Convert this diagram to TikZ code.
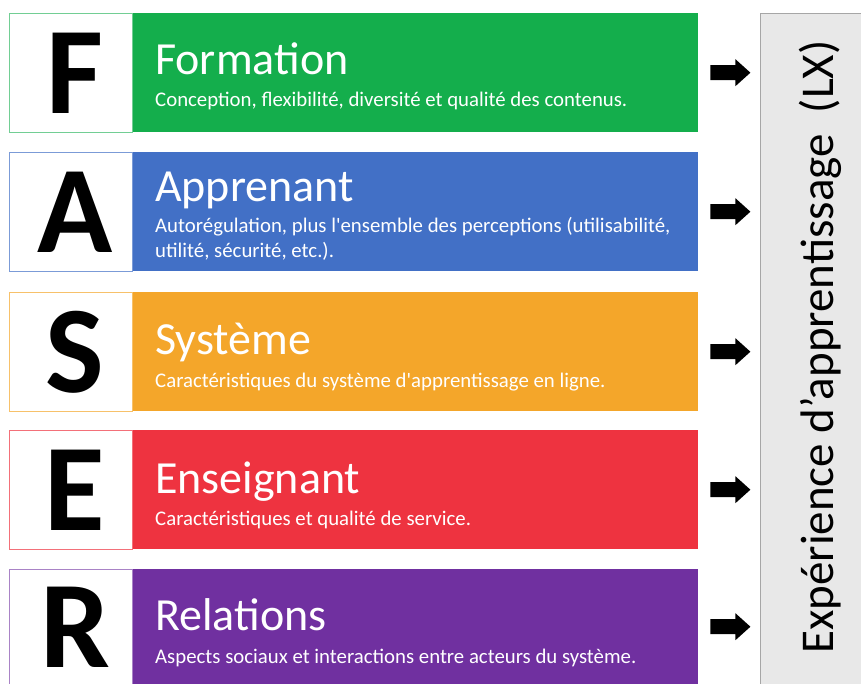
\documentclass[tikz,border=0pt]{standalone}
\usepackage{fontspec}
\setmainfont{Carlito}
\definecolor{cF}{HTML}{14AE4C}
\definecolor{cA}{HTML}{4270C6}
\definecolor{cS}{HTML}{F4A62A}
\definecolor{cE}{HTML}{EE3340}
\definecolor{cR}{HTML}{7030A0}
\definecolor{lxfill}{HTML}{E8E8E8}
\definecolor{lxline}{HTML}{A6A6A6}
\tikzset{
  rowbox/.style={rectangle, anchor=north west, minimum width=565pt, minimum height=119pt, inner sep=0pt, draw=none},
  letterbox/.style={rectangle, anchor=north east, minimum width=123pt, minimum height=119pt, inner sep=0pt, fill=white, line width=0.8pt},
  bigletter/.style={inner sep=0pt, xshift=4pt, text=black, font=\fontsize{124}{124}\selectfont\bfseries},
  titletext/.style={anchor=base west, inner sep=0pt, text=white, font=\fontsize{46}{46}\selectfont},
  subtext/.style={anchor=base west, inner sep=0pt, text=white, align=left, font=\fontsize{20.8}{25}\selectfont},
  lxbox/.style={rectangle, anchor=north west, minimum width=103pt, minimum height=673pt, inner sep=0pt, fill=lxfill, draw=lxline, line width=0.8pt},
  lxtext/.style={rotate=90, anchor=base, inner sep=0pt, text=black, font=\fontsize{47}{47}\selectfont},
  fatarrow/.style={fill=black}
}
\newcommand\faserarrow[1]{%
  \fill[fatarrow] (#1) ++(0,-7.5) -- ++(25,0) -- ++(0,-6) -- ++(15,13.5) -- ++(-15,13.5) -- ++(0,-6) -- ++(-25,0) -- cycle;}
\begin{document}
\begin{tikzpicture}[x=1pt,y=-1pt]
\useasboundingbox[fill=white] (0,0) rectangle (861,684);

% right box
\node[lxbox] (lx) at (760,13) {};
\node[lxtext] (lxt) at (833,347) {Expérience d’apprentissage\ \ (LX)};

% F
\node[rowbox, fill=cF] (bF) at (133,13) {};
\node[letterbox, draw=cF!60] (lF) at (bF.north west) {};
\node[bigletter] (gF) at (lF.center) {F};
\node[titletext] (tF) at (155,75) {Formation};
\node[subtext] (sF) at (155,107) {Conception, flexibilité, diversité et qualité des contenus.};

% A
\node[rowbox, fill=cA] (bA) at (133,152) {};
\node[letterbox, draw=cA!70] (lA) at (bA.north west) {};
\node[bigletter] (gA) at (lA.center) {A};
\node[titletext] (tA) at (155,202) {Apprenant};
\node[subtext] (sA) at (155,258) {Autorégulation, plus l\textquotesingle ensemble des perceptions (utilisabilité,\\utilité, sécurité, etc.).};

% S
\node[rowbox, fill=cS] (bS) at (133,292) {};
\node[letterbox, draw=cS!70] (lS) at (bS.north west) {};
\node[bigletter] (gS) at (lS.center) {S};
\node[titletext] (tS) at (155,354) {Système};
\node[subtext] (sS) at (155,387) {Caractéristiques du système d\textquotesingle apprentissage en ligne.};

% E
\node[rowbox, fill=cE] (bE) at (133,430) {};
\node[letterbox, draw=cE!70] (lE) at (bE.north west) {};
\node[bigletter] (gE) at (lE.center) {E};
\node[titletext] (tE) at (155,493) {Enseignant};
\node[subtext] (sE) at (155,525) {Caractéristiques et qualité de service.};

% R
\node[rowbox, fill=cR, minimum height=115pt] (bR) at (133,569) {};
\node[letterbox, draw=cR!60, minimum height=115pt] (lR) at (bR.north west) {};
\node[bigletter] (gR) at (lR.center) {R};
\node[titletext] (tR) at (155,630) {Relations};
\node[subtext] (sR) at (155,663) {Aspects sociaux et interactions entre acteurs du système.};

% arrows
\foreach \r in {F,A,S,E,R}{
  \coordinate (a\r) at ([xshift=12pt]b\r.east);
  \faserarrow{a\r}
}
\end{tikzpicture}
\end{document}
